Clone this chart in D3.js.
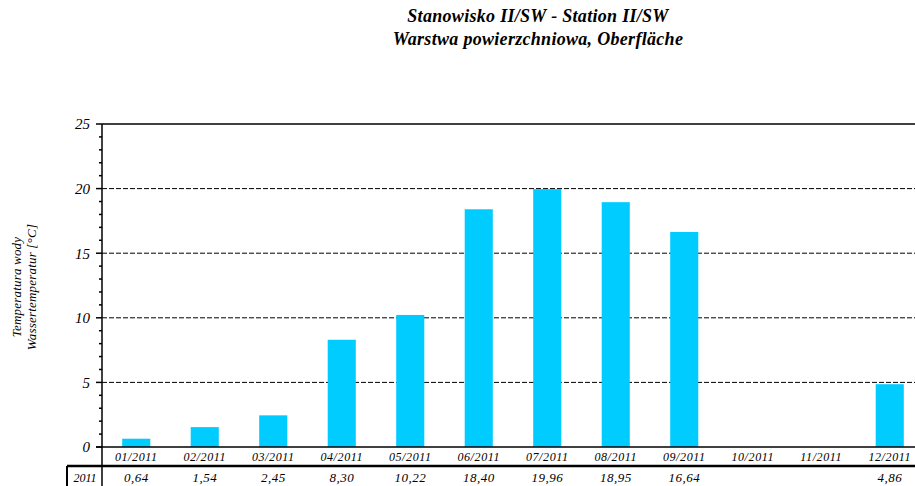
<!DOCTYPE html>
<html>
<head>
<meta charset="utf-8">
<script src="https://cdn.jsdelivr.net/npm/d3@7"></script>
<style>
  body { margin: 0; background: #fff; overflow: hidden; }
  svg text { font-family: "Liberation Serif", "DejaVu Serif", serif; font-style: italic; }
</style>
</head>
<body>
<div id="chart"></div>
<script>
// Monthly surface water temperature, station II/SW, 2011
var months = ['01/2011', '02/2011', '03/2011', '04/2011', '05/2011', '06/2011',
              '07/2011', '08/2011', '09/2011', '10/2011', '11/2011', '12/2011'];
var temps = [0.64, 1.54, 2.45, 8.30, 10.22, 18.40, 19.96, 18.95, 16.64, null, null, 4.86];
var tempLabels = ['0,64', '1,54', '2,45', '8,30', '10,22', '18,40', '19,96', '18,95', '16,64', '', '', '4,86'];
var yTicks = [0, 5, 10, 15, 20, 25];
var rowLabel = '2011';

var W = 915, H = 486;
var margin = { top: 124, right: -9, bottom: 39, left: 102 };
var width = W - margin.left - margin.right;
var height = H - margin.top - margin.bottom;

var root = d3.select('#chart').append('svg')
    .attr('width', W)
    .attr('height', H);

// Title
var title = root.append('text')
    .attr('x', 538)
    .attr('y', 22)
    .attr('text-anchor', 'middle')
    .attr('font-weight', 'bold')
    .attr('font-size', 18)
    .attr('letter-spacing', 0.3);
title.append('tspan').attr('x', 538).text('Stanowisko II/SW - Station II/SW');
title.append('tspan').attr('x', 538).attr('dy', 23).text('Warstwa powierzchniowa, Oberfläche');

var svg = root.append('g')
    .attr('transform', `translate(${margin.left},${margin.top})`);

var xScale = d3.scaleBand()
    .domain(months)
    .range([0, width])
    .paddingInner(0.59)
    .paddingOuter(0.295);

var yScale = d3.scaleLinear()
    .domain([0, 25])
    .range([height, 0]);

// Dashed grid lines
svg.selectAll('.grid')
    .data(yTicks.filter(d => d > 0 && d < 25))
    .enter()
    .append('line')
    .attr('x1', 0)
    .attr('x2', width)
    .attr('y1', d => yScale(d))
    .attr('y2', d => yScale(d))
    .attr('stroke', '#000')
    .attr('stroke-width', 1)
    .attr('stroke-dasharray', '5,2');

// Top border
svg.append('line')
    .attr('x1', 0).attr('x2', width)
    .attr('y1', yScale(25)).attr('y2', yScale(25))
    .attr('stroke', '#000').attr('stroke-width', 1.5);

// Bars
svg.selectAll('.bar')
    .data(months.map((m, i) => ({ month: m, value: temps[i] })).filter(d => d.value != null))
    .enter()
    .append('rect')
    .attr('class', 'bar')
    .attr('x', d => xScale(d.month))
    .attr('y', d => yScale(d.value))
    .attr('width', xScale.bandwidth())
    .attr('height', d => yScale(0) - yScale(d.value))
    .attr('fill', '#00ccff');

// Minor ticks
svg.selectAll('.minor')
    .data(d3.range(0, 26))
    .enter()
    .append('line')
    .attr('x1', d => d % 5 === 0 ? -6 : -3)
    .attr('x2', 0)
    .attr('y1', d => yScale(d))
    .attr('y2', d => yScale(d))
    .attr('stroke', '#000')
    .attr('stroke-width', 1.5);

// Y axis
var yAxis = svg.append('g')
    .call(d3.axisLeft(yScale).tickValues(yTicks).tickSize(0).tickPadding(12));
yAxis.select('.domain').remove();
yAxis.selectAll('text')
    .attr('font-size', 15)
    .attr('font-family', '"Liberation Serif", serif')
    .attr('font-style', 'italic');

svg.append('line')
    .attr('x1', 0).attr('x2', 0)
    .attr('y1', 0).attr('y2', H - margin.top)
    .attr('stroke', '#000').attr('stroke-width', 1.5);

// Zero line
svg.append('line')
    .attr('x1', -6).attr('x2', width)
    .attr('y1', yScale(0)).attr('y2', yScale(0))
    .attr('stroke', '#000').attr('stroke-width', 1.5);

// X category labels
svg.selectAll('.xlabel')
    .data(months)
    .enter()
    .append('text')
    .attr('x', d => xScale(d) + xScale.bandwidth() / 2)
    .attr('y', height + 14)
    .attr('text-anchor', 'middle')
    .attr('font-size', 12)
    .attr('letter-spacing', 0.6)
    .text(d => d);

// Data table row
svg.append('line')
    .attr('x1', -35).attr('x2', width)
    .attr('y1', height + 19).attr('y2', height + 19)
    .attr('stroke', '#000').attr('stroke-width', 2.5);
svg.append('line')
    .attr('x1', -35).attr('x2', -35)
    .attr('y1', height + 19).attr('y2', H - margin.top)
    .attr('stroke', '#000').attr('stroke-width', 2);
svg.append('text')
    .attr('x', -17)
    .attr('y', height + 35)
    .attr('text-anchor', 'middle')
    .attr('font-size', 12)
    .text(rowLabel);

svg.selectAll('.vlabel')
    .data(months)
    .enter()
    .append('text')
    .attr('x', (d, i) => xScale(d) + xScale.bandwidth() / 2)
    .attr('y', height + 35)
    .attr('text-anchor', 'middle')
    .attr('font-size', 13)
    .attr('letter-spacing', 0.5)
    .text((d, i) => tempLabels[i]);

// Y axis title
var yTitle = root.append('text')
    .attr('transform', 'translate(24,287) rotate(-90)')
    .attr('text-anchor', 'middle')
    .attr('font-size', 13)
    .attr('letter-spacing', 0.2);
yTitle.append('tspan').attr('x', 0).attr('y', -3).text('Temperatura wody');
yTitle.append('tspan').attr('x', 0).attr('y', 12).text('Wassertemperatur  [°C]');
</script>
</body>
</html>
